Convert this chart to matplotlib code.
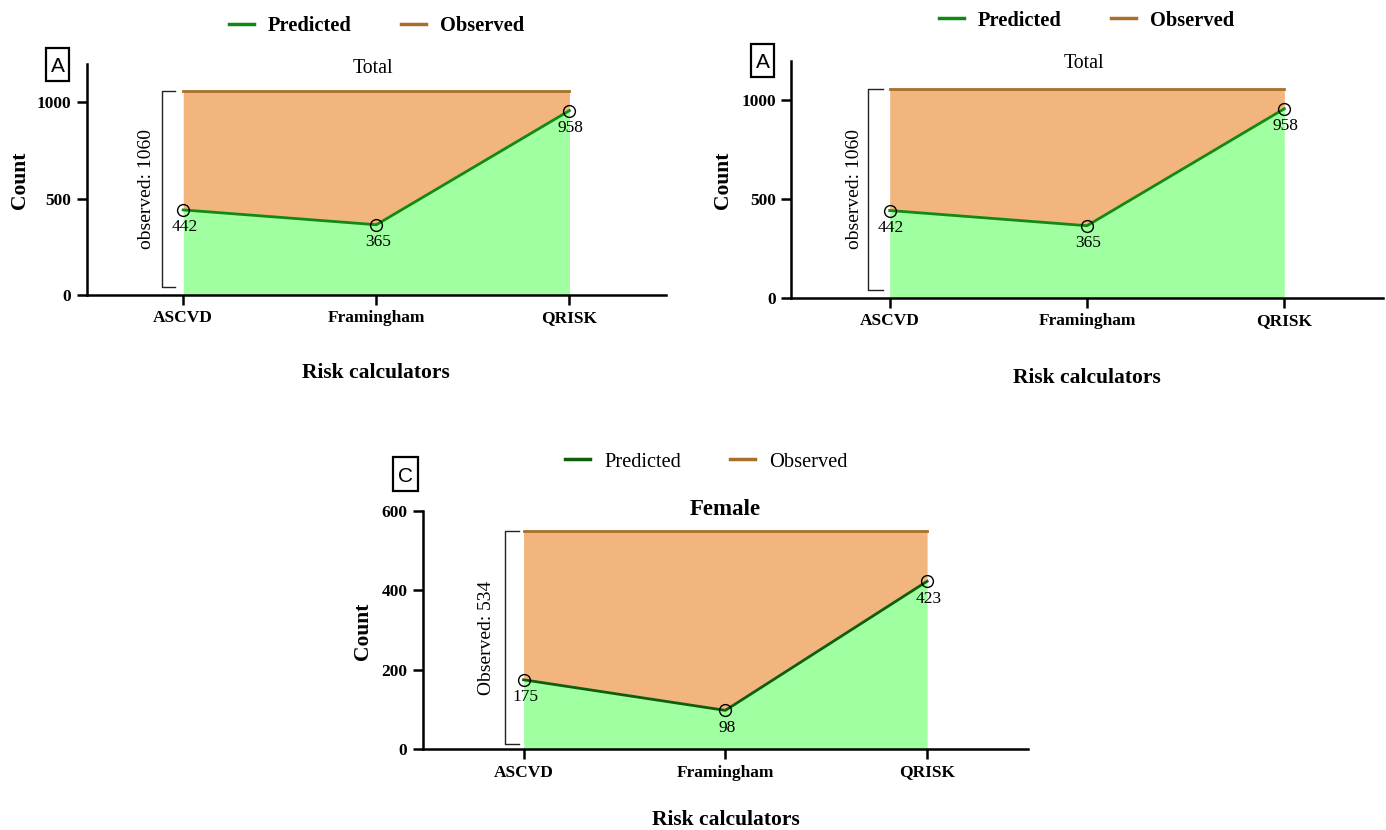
import numpy as np
import matplotlib.pyplot as plt
from matplotlib.lines import Line2D
from matplotlib.patches import Rectangle

plt.rcParams['font.family'] = ['Liberation Serif', 'DejaVu Serif']

# datos
calculators = ['ASCVD', 'Framingham', 'QRISK']
pred_total = [442, 365, 958]
obs_total = 1060
pred_female = [175, 98, 423]
obs_female = 534          # valor del texto
obs_female_line = 550     # nivel de la linea como se ve en la grafica

green_fill = '#a0ffa0'
orange_fill = '#f1b57d'
brown = '#a86f2c'

W, H = 1386, 830


def fx(x):
    return x / W


def fy(y):
    return 1 - y / H


fig = plt.figure(figsize=(13.86, 8.30), dpi=100)


def panel(rect, pred, obs_line, obs_text, ylim, yticks, line_green, bold_legend,
          letter, letter_box, title, title_xy, title_bold, legend_xy,
          count_xy, xlabel_xy, br_x0, br_x1, br_bottom, txt_x):
    ax = fig.add_axes(rect)
    x = np.arange(len(calculators))
    obs = [obs_line] * len(calculators)
    ax.fill_between(x, 0, pred, color=green_fill, lw=0)
    ax.fill_between(x, pred, obs, color=orange_fill, lw=0)
    ax.plot(x, obs, color=brown, lw=2)
    ax.plot(x, pred, color=line_green, lw=2)
    ax.plot(x, pred, 'o', mfc='none', mec='black', mew=1.0, ms=8.5, zorder=5)
    for xi, v in zip(x, pred):
        ax.annotate(str(v), (xi, v), xytext=(1, -12.5), textcoords='offset points',
                    ha='center', va='center', fontsize=12.5)
    # corchete del observado
    ax.plot([br_x1, br_x0, br_x0, br_x1], [br_bottom, br_bottom, obs_line, obs_line],
            color='#222222', lw=1.0, clip_on=False)
    ax.text(txt_x, (br_bottom + obs_line) / 2, obs_text, rotation=90,
            ha='center', va='center', fontsize=14)

    ax.set_xlim(-0.5, 2.5)
    ax.set_ylim(*ylim)
    ax.set_xticks(x)
    ax.set_xticklabels(calculators, fontsize=12.5, fontweight='bold')
    ax.set_yticks(yticks)
    ax.set_yticklabels([str(t) for t in yticks], fontsize=12.5, fontweight='bold')
    for s in ['top', 'right']:
        ax.spines[s].set_visible(False)
    for s in ['left', 'bottom']:
        ax.spines[s].set_linewidth(1.8)
    ax.tick_params(axis='both', width=1.8, length=7, pad=4)

    fw = 'bold' if bold_legend else 'normal'
    handles = [Line2D([], [], color=line_green, lw=2.5), Line2D([], [], color=brown, lw=2.5)]
    ax.legend(handles, ['Predicted', 'Observed'], loc='center',
              bbox_to_anchor=(fx(legend_xy[0]), fy(legend_xy[1])),
              bbox_transform=fig.transFigure, ncol=2, frameon=False,
              handlelength=1.22, handletextpad=0.7, columnspacing=2.4,
              prop={'size': 14.7, 'weight': fw})

    # letra del panel con su recuadro
    x0, y0, x1, y1 = letter_box
    fig.patches.append(Rectangle((fx(x0), fy(y1)), (x1 - x0) / W, (y1 - y0) / H,
                                 transform=fig.transFigure, fill=False,
                                 ec='black', lw=1.6))
    fig.text(fx((x0 + x1) / 2), fy((y0 + y1) / 2), letter, family='Liberation Sans',
             fontsize=15, ha='center', va='center_baseline')
    fig.text(fx(title_xy[0]), fy(title_xy[1]), title, ha='center', va='center',
             fontsize=16.5 if title_bold else 14.3,
             fontweight='bold' if title_bold else 'normal')
    fig.text(fx(count_xy[0]), fy(count_xy[1]), 'Count', rotation=90, ha='center',
             va='center', fontsize=15.5, fontweight='bold')
    fig.text(fx(xlabel_xy[0]), fy(xlabel_xy[1]), 'Risk calculators', ha='center',
             va='center', fontsize=15.5, fontweight='bold')
    return ax


# Panel A (izquierda)
panel([fx(86.7), fy(295), (666 - 86.7) / W, (295 - 64) / H], pred_total, obs_total,
      'observed: ' + str(obs_total), (0, 1200), [0, 500, 1000], '#128a12', True,
      'A', (46, 48, 69, 81), 'Total', (372.5, 68.5), False, (376.5, 26),
      (20, 180), (376, 373), -0.109, -0.041, 42, -0.19)

# Panel A (derecha)
panel([fx(791), fy(297.7), (1383 - 791) / W, (297.7 - 61) / H], pred_total, obs_total,
      'observed: ' + str(obs_total), (0, 1200), [0, 500, 1000], '#128a12', True,
      'A', (751, 44, 774, 77), 'Total', (1084, 64), False, (1086.5, 20.5),
      (723, 180), (1087, 378), -0.112, -0.036, 39, -0.18)

# Panel C
panel([fx(422.7), fy(749.3), (1028 - 422.7) / W, (749.3 - 511) / H], pred_female,
      obs_female_line, 'Observed: ' + str(obs_female), (0, 600), [0, 200, 400, 600],
      '#0e5e0e', False,
      'C', (393, 457, 418, 491), 'Female', (725.5, 509), True, (706.5, 462),
      (363, 631), (726, 820), -0.094, -0.025, 13, -0.184)

plt.savefig('out.png', dpi=100)
